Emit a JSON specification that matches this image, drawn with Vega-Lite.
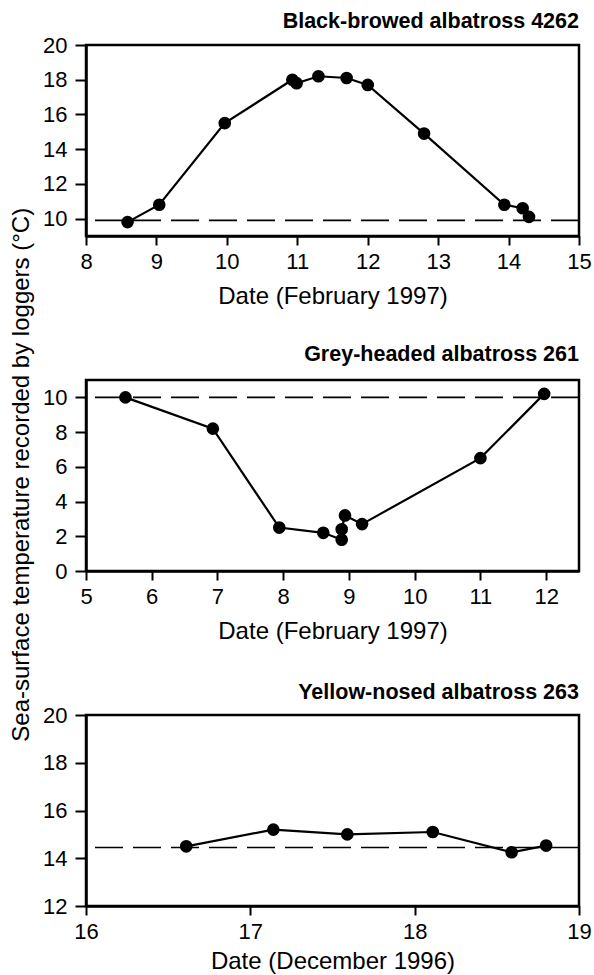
{
  "$schema": "https://vega.github.io/schema/vega-lite/v6.json",
  "background": "white",
  "padding": {"left": 10, "top": 9, "right": 12, "bottom": 3},
  "spacing": 144,
  "bounds": "flush",
  "title": {"text": "Sea-surface temperature recorded by loggers (°C)", "orient": "left", "anchor": "middle", "frame": "bounds", "fontSize": 24, "fontWeight": "normal", "offset": 7, "dx": 17},
  "datasets": {
    "bb": [
      {"day": 8.59, "sst": 9.8, "ord": 1},
      {"day": 9.04, "sst": 10.8, "ord": 2},
      {"day": 9.97, "sst": 15.5, "ord": 3},
      {"day": 10.93, "sst": 18.0, "ord": 4},
      {"day": 10.99, "sst": 17.8, "ord": 5},
      {"day": 11.3, "sst": 18.2, "ord": 6},
      {"day": 11.7, "sst": 18.1, "ord": 7},
      {"day": 12.0, "sst": 17.7, "ord": 8},
      {"day": 12.8, "sst": 14.9, "ord": 9},
      {"day": 13.94, "sst": 10.8, "ord": 10},
      {"day": 14.2, "sst": 10.6, "ord": 11},
      {"day": 14.29, "sst": 10.1, "ord": 12}
    ],
    "bbRef": [{"sst": 9.9}],
    "gh": [
      {"day": 5.6, "sst": 10.0, "ord": 1},
      {"day": 6.93, "sst": 8.2, "ord": 2},
      {"day": 7.94, "sst": 2.5, "ord": 3},
      {"day": 8.61, "sst": 2.2, "ord": 4},
      {"day": 8.89, "sst": 1.8, "ord": 5},
      {"day": 8.89, "sst": 2.4, "ord": 6},
      {"day": 8.94, "sst": 3.2, "ord": 7},
      {"day": 9.2, "sst": 2.7, "ord": 8},
      {"day": 11.0, "sst": 6.5, "ord": 9},
      {"day": 11.97, "sst": 10.2, "ord": 10}
    ],
    "ghRef": [{"sst": 10.0}],
    "yn": [
      {"day": 16.61, "sst": 14.5, "ord": 1},
      {"day": 17.14, "sst": 15.2, "ord": 2},
      {"day": 17.59, "sst": 15.0, "ord": 3},
      {"day": 18.11, "sst": 15.1, "ord": 4},
      {"day": 18.59, "sst": 14.25, "ord": 5},
      {"day": 18.8, "sst": 14.53, "ord": 6}
    ],
    "ynRef": [{"sst": 14.45}]
  },
  "config": {
    "font": "Liberation Sans",
    "view": {"stroke": "black", "strokeWidth": 2.5},
    "axis": {
      "grid": false,
      "domainColor": "black",
      "domainWidth": 2.5,
      "tickColor": "black",
      "tickWidth": 2,
      "labelFont": "Liberation Sans",
      "labelFontSize": 22,
      "labelColor": "black",
      "labelOverlap": false,
      "labelFlush": false,
      "labelBound": false,
      "titleFont": "Liberation Sans",
      "titleFontSize": 24,
      "titleFontWeight": "normal",
      "titleColor": "black"
    },
    "axisX": {"tickSize": 9, "labelPadding": 6, "titlePadding": 12},
    "axisY": {"tickSize": 11, "labelPadding": 8},
    "title": {"anchor": "end", "fontSize": 21.5, "fontWeight": "bold", "color": "black", "font": "Liberation Sans"}
  },
  "vconcat": [
    {
      "title": {"text": "Black-browed albatross 4262", "offset": 2, "frame": "group"},
      "width": 493,
      "height": 191,
      "layer": [
        {
          "data": {"name": "bbRef"},
          "mark": {"type": "rule", "strokeDash": [28, 10], "strokeWidth": 1.6, "color": "black"},
          "encoding": {"y": {"field": "sst", "type": "quantitative", "scale": {"domain": [9, 20], "nice": false, "zero": false},
                  "axis": {"values": [10, 12, 14, 16, 18, 20], "title": null, "labelOverlap": false}}}
        },
        {
          "data": {"name": "bb"},
          "mark": {"type": "line", "color": "black", "strokeWidth": 2.2, "point": {"filled": true, "size": 160, "color": "black", "opacity": 1}},
          "encoding": {
            "x": {"field": "day", "type": "quantitative", "scale": {"domain": [8, 15], "nice": false, "zero": false},
                  "axis": {"values": [8, 9, 10, 11, 12, 13, 14, 15], "title": "Date (February 1997)", "labelOverlap": false}},
            "y": {"field": "sst", "type": "quantitative", "scale": {"domain": [9, 20], "nice": false, "zero": false},
                  "axis": {"values": [10, 12, 14, 16, 18, 20], "title": null, "labelOverlap": false}},
            "order": {"field": "ord"}
          }
        }
      ]
    },
    {
      "title": {"text": "Grey-headed albatross 261", "offset": 15, "frame": "group"},
      "width": 493,
      "height": 191,
      "layer": [
        {
          "data": {"name": "ghRef"},
          "mark": {"type": "rule", "strokeDash": [28, 10], "strokeWidth": 1.6, "color": "black"},
          "encoding": {"y": {"field": "sst", "type": "quantitative", "scale": {"domain": [0, 11], "nice": false, "zero": false},
                  "axis": {"values": [0, 2, 4, 6, 8, 10], "title": null, "labelOverlap": false}}}
        },
        {
          "data": {"name": "gh"},
          "mark": {"type": "line", "color": "black", "strokeWidth": 2.2, "point": {"filled": true, "size": 160, "color": "black", "opacity": 1}},
          "encoding": {
            "x": {"field": "day", "type": "quantitative", "scale": {"domain": [5, 12.5], "nice": false, "zero": false},
                  "axis": {"values": [5, 6, 7, 8, 9, 10, 11, 12], "title": "Date (February 1997)", "labelOverlap": false}},
            "y": {"field": "sst", "type": "quantitative", "scale": {"domain": [0, 11], "nice": false, "zero": false},
                  "axis": {"values": [0, 2, 4, 6, 8, 10], "title": null, "labelOverlap": false}},
            "order": {"field": "ord"}
          }
        }
      ]
    },
    {
      "title": {"text": "Yellow-nosed albatross 263", "offset": 1, "frame": "group"},
      "width": 493,
      "height": 191,
      "layer": [
        {
          "data": {"name": "ynRef"},
          "mark": {"type": "rule", "strokeDash": [28, 10], "strokeWidth": 1.6, "color": "black"},
          "encoding": {"y": {"field": "sst", "type": "quantitative", "scale": {"domain": [12, 20], "nice": false, "zero": false},
                  "axis": {"values": [12, 14, 16, 18, 20], "title": null, "labelOverlap": false}}}
        },
        {
          "data": {"name": "yn"},
          "mark": {"type": "line", "color": "black", "strokeWidth": 2.2, "point": {"filled": true, "size": 160, "color": "black", "opacity": 1}},
          "encoding": {
            "x": {"field": "day", "type": "quantitative", "scale": {"domain": [16, 19], "nice": false, "zero": false},
                  "axis": {"values": [16, 17, 18, 19], "title": "Date (December 1996)", "titlePadding": 7, "labelOverlap": false}},
            "y": {"field": "sst", "type": "quantitative", "scale": {"domain": [12, 20], "nice": false, "zero": false},
                  "axis": {"values": [12, 14, 16, 18, 20], "title": null, "labelOverlap": false}},
            "order": {"field": "ord"}
          }
        }
      ]
    }
  ]
}
